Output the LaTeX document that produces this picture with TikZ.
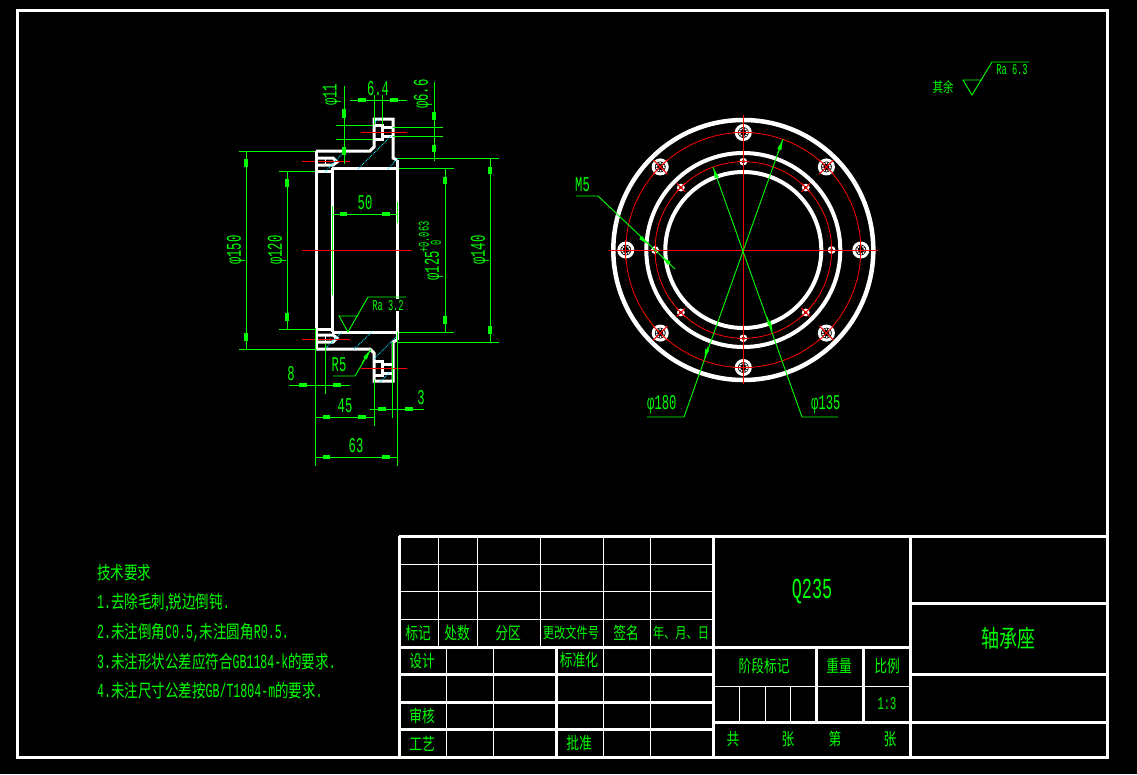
\documentclass[tikz,border=0pt]{standalone}
\usepackage{fontspec}
\usetikzlibrary{arrows.meta,calc}
\setmainfont[FakeStretch=0.75]{Noto Sans CJK SC}
\newfontfamily\cadfont[FakeStretch=0.58]{Liberation Mono}
\definecolor{dimcolor}{RGB}{0,255,0}
\definecolor{centercolor}{RGB}{255,0,0}
\definecolor{hatchcolor}{RGB}{0,230,255}
\newcommand{\cadsize}[1]{\cadfont\fontsize{#1}{#1}\selectfont}
\newcommand{\cjksize}[1]{\normalfont\fontsize{#1}{#1}\selectfont}
\begin{document}
\begin{tikzpicture}
  [x=1pt,y=-1pt,
   % Styles
   frame line/.style={white,line width=3pt},
   table line/.style={white,line width=1pt},
   part line/.style={white,line width=3pt,line join=miter},
   dim line/.style={dimcolor,line width=.9pt},
   dim tick/.style={dimcolor,line width=3.5pt},
   dim head/.style={dimcolor,line width=.9pt,-{Latex[length=11pt,width=4.5pt]}},
   center line/.style={centercolor,line width=1pt},
   hatch line/.style={hatchcolor,line width=.9pt,densely dotted},
   dim text/.style={text=dimcolor,inner sep=0pt,font=\cadsize{21}},
   note text/.style={text=dimcolor,inner sep=0pt,font=\cjksize{18}},
   cell text/.style={text=dimcolor,inner sep=0pt,font=\cjksize{17}}]

  % Sheet
  \fill[black] (0,0) rectangle (1137,774);
  \useasboundingbox (0,0) rectangle (1137,774);
  \draw[frame line] (17,10) rectangle (1107,757);

  % Title block, thin lines
  \foreach \y in {564,591,619}
    \draw[table line] (399,\y) -- (713,\y);
  \foreach \x in {438,477,540,603,650}
    \draw[table line] (\x,536) -- (\x,647);
  \foreach \x in {446,493,603,650}
    \draw[table line] (\x,647) -- (\x,757);
  \draw[table line] (713,686) -- (910,686);
  \foreach \x in {739,765,790}
    \draw[table line] (\x,686) -- (\x,722);

  % Title block, thick lines
  \draw[frame line] (399,536) -- (1107,536);
  \draw[frame line] (399,536) -- (399,757);
  \foreach \x in {713,910}
    \draw[frame line] (\x,536) -- (\x,757);
  \draw[frame line] (556,647) -- (556,757);
  \foreach \y in {674,702,729}
    \draw[frame line] (399,\y) -- (713,\y);
  \draw[frame line] (399,647) -- (910,647);
  \draw[frame line] (713,722) -- (1107,722);
  \foreach \y in {603,674}
    \draw[frame line] (910,\y) -- (1107,\y);
  \foreach \x in {816,863}
    \draw[frame line] (\x,647) -- (\x,722);

  % Title block, texts
  \node[cell text] (mark) at (418,633) {标记};
  \node[cell text] (count) at (457,633) {处数};
  \node[cell text] (zone) at (508,633) {分区};
  \node[cell text,font=\cjksize{15}] (filenum) at (571,633) {更改文件号};
  \node[cell text] (sign) at (626,633) {签名};
  \node[cell text,font=\cjksize{15}] (date) at (681,633) {年、月、日};
  \node[cell text] (design) at (422,661) {设计};
  \node[cell text] (standard) at (579,660) {标准化};
  \node[cell text] (review) at (422,716) {审核};
  \node[cell text] (craft) at (422,744) {工艺};
  \node[cell text] (approve) at (579,743) {批准};
  \node[dim text,font=\cadsize{29}] (material) at (812,592) {Q235};
  \node[cell text,font=\cjksize{24}] (partname) at (1008,638) {轴承座};
  \node[cell text] (stage) at (764,666) {阶段标记};
  \node[cell text] (weight) at (839,666) {重量};
  \node[cell text] (ratio) at (887,666) {比例};
  \node[dim text,font=\cadsize{18}] (ratioval) at (887,704) {1:3};
  \node[cell text] (total) at (733,739) {共};
  \node[cell text] (sheeta) at (788,739) {张};
  \node[cell text] (nth) at (835,739) {第};
  \node[cell text] (sheetb) at (890,739) {张};

  % Technical notes
  \node[note text,anchor=west] (notehead) at (97,573) {技术要求};
  \node[note text,anchor=west] (notea) at (97,603)
    {{\cadsize{20}1.}去除毛刺,锐边倒钝{\cadsize{20}.}};
  \node[note text,anchor=west] (noteb) at (97,633)
    {{\cadsize{20}2.}未注倒角{\cadsize{20}C0.5,}未注圆角{\cadsize{20}R0.5.}};
  \node[note text,anchor=west] (notec) at (97,662)
    {{\cadsize{20}3.}未注形状公差应符合{\cadsize{20}GB1184-k}的要求{\cadsize{20}.}};
  \node[note text,anchor=west] (noted) at (97,691)
    {{\cadsize{20}4.}未注尺寸公差按{\cadsize{20}GB/T1804-m}的要求{\cadsize{20}.}};

  % Section view, both halves
  \foreach \s in {1,-1} {
    \begin{scope}[shift={(0,250)},yscale=\s]
      \draw[part line] (316,-99) -- (370,-99) -- (374,-103) -- (374,-131)
        -- (393,-131) -- (393,-92) -- (397,-90);
      \draw[part line] (374,-125) -- (382,-125) -- (382,-111) -- (374,-111);
      \draw[part line] (382,-123) -- (393,-123) (382,-114) -- (393,-114);
      \draw[part line] (316,-92) -- (333,-92) -- (337,-88) -- (333,-85) -- (316,-85);
      \draw[part line] (316,-79) -- (332,-79);
      \draw[part line] (332,-82) -- (397,-82);
      \draw[table line] (325,-92) -- (325,-85);
      % Extension lines
      \draw[dim line] (239,-99) -- (317,-99);
      \draw[dim line] (279,-79) -- (317,-79);
      \draw[dim line] (397,-82) -- (454,-82);
      \draw[dim line] (397,-92) -- (499,-92);
      % Center lines
      \draw[center line] (302,-89) -- (350,-89);
      \draw[center line] (361,-118) -- (407,-118);
    \end{scope}
  }
  \draw[part line] (316,151) -- (316,349);
  \draw[part line] (332,168) -- (332,332);
  \draw[part line] (397,160) -- (397,299) (397,311) -- (397,340);
  \draw[center line] (302,250) -- (411,250);

  % Section hatching
  \foreach \xa/\ya/\xb/\yb in {325/172/342/154, 358/169/391/136, 388/169/398/158,
    375/122/379/118, 326/348/342/332, 354/349/372/332, 374/359/397/336, 380/382/390/372}
    \draw[hatch line] (\xa,\ya) -- (\xb,\yb);

  % Dimension lines
  \draw[dim line] (344,86) -- (344,164);
  \foreach \y in {125,139}
    \draw[dim line] (336,\y) -- (373,\y);
  \draw[dim line] (350,100) -- (407,100);
  \foreach \x in {374,382}
    \draw[dim line] (\x,95) -- (\x,125);
  \draw[dim line] (434,82) -- (434,161);
  \foreach \y in {127,136}
    \draw[dim line] (393,\y) -- (443,\y);
  \draw[dim line] (246,151) -- (246,349);
  \draw[dim line] (287,171) -- (287,329);
  \draw[dim line] (445,168) -- (445,332);
  \draw[dim line] (490,158) -- (490,342);
  \draw[dim line] (333,214) -- (397,214);
  \draw[dim line] (332,206) -- (332,295);
  \draw[dim line] (397,202) -- (397,223);
  \draw[dim line] (289,385) -- (350,385);
  \draw[dim line] (325,343) -- (325,394);
  \draw[dim line] (315.5,417) -- (374,417);
  \draw[dim line] (374,380) -- (374,426);
  \draw[dim line] (370,409) -- (424,409);
  \draw[dim line] (392,342) -- (392,418);
  \draw[dim line] (315.5,457) -- (397,457);
  \draw[dim line] (315.5,328) -- (315.5,466);
  \draw[dim line] (397,332) -- (397,466);

  % Dimension ticks
  \foreach \xa/\ya/\xb/\yb in {344/109/344/118, 344/147/344/155, 358/100/366/100, 390/100/398/100,
    434/112/434/120, 434/145/434/152, 246/159/246/167, 246/333/246/341,
    287/179/287/187, 287/313/287/321, 445/177/445/184, 445/316/445/324,
    490/167/490/174, 490/326/490/334, 340/214/347/214, 382/214/390/214,
    299/385/307/385, 333/385/341/385, 323/417/330/417, 358/417/366/417,
    378/409/386/409, 405/409/413/409, 323/457/330/457, 382/457/390/457}
    \draw[dim tick] (\xa,\ya) -- (\xb,\yb);

  % Dimension texts
  \node[dim text] (dimbore) at (378,89) {6.4};
  \node[dim text,rotate=90] (dimeleven) at (332,95) {φ11};
  \node[dim text,rotate=90] (dimsmall) at (423,94) {φ6.6};
  \node[dim text,rotate=90] (dimflange) at (236,250) {φ150};
  \node[dim text,rotate=90] (diminner) at (277,250) {φ120};
  \node[dim text,rotate=90,anchor=east] (dimseat) at (434,251) {φ125};
  \node[dim text,rotate=90,font=\cadsize{15}] (dimupper) at (424,237) {+0.063};
  \node[dim text,rotate=90,font=\cadsize{15}] (dimlower) at (436,243) {0};
  \node[dim text,rotate=90] (dimouter) at (480,250) {φ140};
  \node[dim text] (dimfifty) at (365,203) {50};
  \node[dim text] (dimeight) at (291,374) {8};
  \node[dim text] (dimfortyfive) at (345,406) {45};
  \node[dim text] (dimthree) at (421,398) {3};
  \node[dim text] (dimsixtythree) at (356,446) {63};

  % R5 leader and surface mark of the section
  \node[dim text] (radius) at (339,365) {R5};
  \coordinate (radiusa) at (333,376);
  \coordinate (radiusb) at (355,376);
  \coordinate (radiusc) at (371,349);
  \draw[dim line] (radiusa) -- (radiusb) -- (radiusc);
  \draw[dim head] (362,363) -- (radiusc);
  \coordinate (rougha) at (339,316);
  \coordinate (roughb) at (358,316);
  \coordinate (roughc) at (348,332);
  \coordinate (roughd) at (368,297);
  \coordinate (roughe) at (406,297);
  \draw[dim line] (roughb) -- (rougha) -- (roughc) -- (roughd) -- (roughe);
  \node[dim text,font=\cadsize{15}] (roughsec) at (388,306) {Ra 3.2};

  % Front view
  \begin{scope}[shift={(743.3,250)}]
    \draw[white,line width=4.5pt] (0,0) circle (130);
    \draw[white,line width=4pt] (0,0) circle (97);
    \draw[white,line width=4pt] (0,0) circle (78);
    \draw[center line,line width=.8pt] (0,0) circle (117.5);
    \draw[center line,line width=.8pt] (0,0) circle (88.3);
    \foreach \a in {0,45,...,315} {
      \fill[black] (\a:117.5) circle (8);
      \draw[white,line width=3pt] (\a:117.5) circle (7);
      \draw[white,line width=1.5pt,densely dotted] (\a:117.5) circle (4);
      \draw[center line] (\a:107.5) -- (\a:127.5);
      \draw[center line] ($(\a:117.5)+(\a+90:10)$) -- ($(\a:117.5)+(\a-90:10)$);
      \fill[black] (\a:88.3) circle (3);
      \draw[white,line width=2pt] (\a:88.3) circle (2.8);
      \draw[center line] (\a:82.3) -- (\a:94.3);
      \draw[center line] ($(\a:88.3)+(\a+90:6)$) -- ($(\a:88.3)+(\a-90:6)$);
    }
    \draw[center line] (-134.3,0) -- (134.7,0);
    \draw[center line] (0,-135) -- (0,134);
  \end{scope}

  % Front view leaders
  \node[dim text,anchor=west] (dimpitch) at (647,405) {φ180};
  \coordinate (pitcha) at (647,417);
  \coordinate (pitchb) at (684,417);
  \coordinate (pitchc) at (783,139);
  \draw[dim line] (pitcha) -- (pitchb) -- (pitchc);
  \draw[dim head] (778,153) -- (pitchc);
  \draw[dim head] (708,347) -- (704,360);
  \node[dim text,anchor=west] (dimholes) at (811,405) {φ135};
  \coordinate (holesa) at (838,417);
  \coordinate (holesb) at (802,417);
  \coordinate (holesc) at (713,167);
  \draw[dim line] (holesa) -- (holesb) -- (holesc);
  \draw[dim head] (717,178) -- (holesc);
  \draw[dim head] (767,317) -- (773,332);
  \node[dim text,anchor=west] (thread) at (575,185) {M5};
  \coordinate (threada) at (576,196);
  \coordinate (threadb) at (598,196);
  \coordinate (threadc) at (675,269);
  \draw[dim line] (threada) -- (threadb) -- (threadc);
  \draw[dim head] (640,237) -- (649,245);
  \draw[dim head] (670,264) -- (661,256);

  % Surface mark of the rest
  \node[note text,font=\cjksize{14}] (restnote) at (943,87) {其余};
  \coordinate (resta) at (963,80);
  \coordinate (restb) at (982,80);
  \coordinate (restc) at (972,95);
  \coordinate (restd) at (992,62);
  \coordinate (reste) at (1029,62);
  \draw[dim line] (restb) -- (resta) -- (restc) -- (restd) -- (reste);
  \node[dim text,font=\cadsize{15}] (roughrest) at (1012,70) {Ra 6.3};
\end{tikzpicture}
\end{document}
